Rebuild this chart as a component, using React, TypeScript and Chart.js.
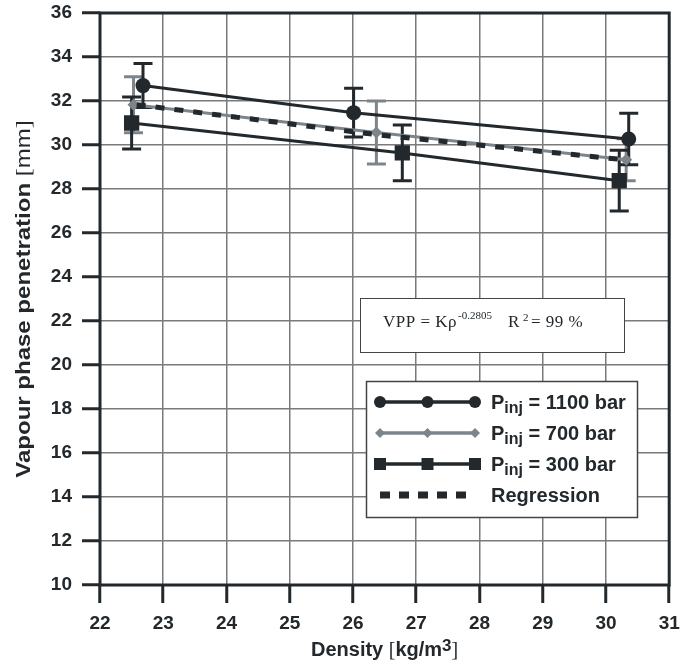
import React, { useEffect, useRef } from 'react';
import { Chart, registerables } from 'chart.js';

Chart.register(...registerables);

// ---- data ----
const xTickValues = [22, 23, 24, 25, 26, 27, 28, 29, 30, 31];
const yTickValues = [10, 12, 14, 16, 18, 20, 22, 24, 26, 28, 30, 32, 34, 36];

const density1100 = [22.68, 26.01, 30.36];
const vpp1100 = [32.7, 31.47, 30.27];
const err1100 = [1.0, 1.11, 1.17];

const density700 = [22.53, 26.37, 30.32];
const vpp700 = [31.83, 30.57, 29.33];
const err700 = [1.27, 1.43, 0.95];

const density300 = [22.5, 26.78, 30.21];
const vpp300 = [31.0, 29.64, 28.38];
const err300 = [1.18, 1.27, 1.38];

const densityReg = [22.58, 26.4, 30.29];
const vppReg = [31.83, 30.46, 29.33];

const legendPressures = ['1100', '700', '300'];
const regressionLabel = 'Regression';
const xTitle = 'Density';
const xUnit = 'kg/m';
const yTitle = 'Vapour phase penetration';
const yUnit = 'mm';

// ---- styles ----
const DARK = '#22282c';
const GRAYS = '#7d858b';
const GRID = '#7a7a7a';
const SANS = '"Liberation Sans", Arial, sans-serif';
const SERIF = '"Liberation Serif", "Times New Roman", serif';

const pts = (xs: number[], ys: number[]) => xs.map((x, i) => ({ x, y: ys[i] }));

const errorBarPlugin = {
  id: 'errorBars',
  beforeDatasetsDraw(chart: any) {
    const ctx = chart.ctx;
    const xs = chart.scales.x;
    const ys = chart.scales.y;
    const order = [1, 0, 2];
    order.forEach((di) => {
      const ds: any = chart.data.datasets[di];
      if (!ds || !ds.errors) return;
      ctx.save();
      ctx.strokeStyle = ds.borderColor;
      ctx.lineWidth = 3;
      ds.data.forEach((p: any, i: number) => {
        const px = xs.getPixelForValue(p.x);
        const top = ys.getPixelForValue(p.y + ds.errors[i]);
        const bot = ys.getPixelForValue(p.y - ds.errors[i]);
        ctx.beginPath();
        ctx.moveTo(px, top);
        ctx.lineTo(px, bot);
        ctx.moveTo(px - 9.5, top);
        ctx.lineTo(px + 9.5, top);
        ctx.moveTo(px - 9.5, bot);
        ctx.lineTo(px + 9.5, bot);
        ctx.stroke();
      });
      ctx.restore();
    });
  },
};

function drawMarker(ctx: CanvasRenderingContext2D, style: string, x: number, y: number, color: string) {
  ctx.fillStyle = color;
  ctx.beginPath();
  if (style === 'circle') {
    ctx.arc(x, y, 6, 0, Math.PI * 2);
  } else if (style === 'rect') {
    ctx.rect(x - 6, y - 6, 12, 12);
  } else {
    ctx.moveTo(x, y - 5);
    ctx.lineTo(x + 5, y);
    ctx.lineTo(x, y + 5);
    ctx.lineTo(x - 5, y);
    ctx.closePath();
  }
  ctx.fill();
}

const decorPlugin = {
  id: 'decor',
  afterDraw(chart: any) {
    const ctx: CanvasRenderingContext2D = chart.ctx;
    const a = chart.chartArea;
    ctx.save();

    // frame
    ctx.strokeStyle = DARK;
    ctx.lineWidth = 3;
    ctx.strokeRect(a.left, a.top, a.right - a.left, a.bottom - a.top);

    // annotation box
    ctx.fillStyle = '#ffffff';
    ctx.fillRect(360, 298, 264, 54);
    ctx.strokeStyle = '#444';
    ctx.lineWidth = 1;
    ctx.strokeRect(360.5, 298.5, 264, 54);
    ctx.fillStyle = DARK;
    ctx.textBaseline = 'alphabetic';
    ctx.textAlign = 'left';
    ctx.font = `17px ${SERIF}`;
    (ctx as any).letterSpacing = '0.5px';
    const t1 = 'VPP = K\u03c1';
    ctx.fillText(t1, 383, 327);
    const w1 = ctx.measureText(t1).width;
    ctx.font = `11px ${SERIF}`;
    (ctx as any).letterSpacing = '0px';
    ctx.fillText('-0.2805', 383 + w1 + 1, 319);
    ctx.font = `17px ${SERIF}`;
    ctx.fillText('R', 508, 327);
    ctx.font = `11px ${SERIF}`;
    ctx.fillText('2', 523, 321);
    ctx.font = `17px ${SERIF}`;
    (ctx as any).letterSpacing = '0.5px';
    ctx.fillText('= 99 %', 531, 327);
    (ctx as any).letterSpacing = '0px';

    // legend box
    const lx = 366, ly = 381, lw = 271, lh = 136;
    ctx.fillStyle = '#ffffff';
    ctx.fillRect(lx, ly, lw, lh);
    ctx.strokeStyle = '#444';
    ctx.lineWidth = 1.5;
    ctx.strokeRect(lx + 0.5, ly + 0.5, lw, lh);

    const rows = [402, 433, 464, 495];
    const styles = ['circle', 'rectRot', 'rect'];
    const colors = [DARK, GRAYS, DARK];
    legendPressures.forEach((p, i) => {
      const y = rows[i];
      ctx.strokeStyle = colors[i];
      ctx.lineWidth = 3.5;
      ctx.beginPath();
      ctx.moveTo(380, y);
      ctx.lineTo(475, y);
      ctx.stroke();
      [380, 427.5, 475].forEach((mx) => drawMarker(ctx, styles[i], mx, y, colors[i]));
      ctx.fillStyle = DARK;
      ctx.font = `bold 20px ${SANS}`;
      ctx.fillText('P', 491, y + 7);
      const pw = ctx.measureText('P').width;
      ctx.font = `bold 16px ${SANS}`;
      ctx.fillText('inj', 491 + pw, y + 11);
      const iw = ctx.measureText('inj').width;
      ctx.font = `bold 20px ${SANS}`;
      ctx.fillText(` = ${p} bar`, 491 + pw + iw, y + 7);
    });
    // regression entry
    ctx.strokeStyle = DARK;
    ctx.lineWidth = 7;
    ctx.setLineDash([10, 9]);
    ctx.beginPath();
    ctx.moveTo(380, rows[3]);
    ctx.lineTo(468, rows[3]);
    ctx.stroke();
    ctx.setLineDash([]);
    ctx.fillStyle = DARK;
    ctx.font = `bold 20px ${SANS}`;
    ctx.fillText(regressionLabel, 491, rows[3] + 7);

    // x title
    const cx = (a.left + a.right) / 2;
    const parts = [
      { t: xTitle + ' ', f: `bold 20px ${SANS}`, dy: 0 },
      { t: '[', f: `20px ${SERIF}`, dy: 0 },
      { t: xUnit, f: `bold 20px ${SANS}`, dy: 0 },
      { t: '3', f: `bold 17px ${SANS}`, dy: -5 },
      { t: ']', f: `20px ${SERIF}`, dy: 0 },
    ];
    let total = 0;
    parts.forEach((p) => { ctx.font = p.f; total += ctx.measureText(p.t).width; });
    let x = cx - total / 2;
    parts.forEach((p) => {
      ctx.font = p.f;
      ctx.fillText(p.t, x, 656 + p.dy);
      x += ctx.measureText(p.t).width;
    });

    // y title (slightly stretched along its length)
    const cy = (a.top + a.bottom) / 2;
    const yparts = [
      { t: yTitle + ' ', f: `bold 20px ${SANS}` },
      { t: '[', f: `20px ${SERIF}` },
      { t: yUnit, f: `20px ${SANS}` },
      { t: ']', f: `20px ${SERIF}` },
    ];
    ctx.save();
    ctx.translate(30, cy);
    ctx.rotate(-Math.PI / 2);
    ctx.scale(1.2, 1);
    let ytot = 0;
    yparts.forEach((p) => { ctx.font = p.f; ytot += ctx.measureText(p.t).width; });
    let yx = -ytot / 2;
    yparts.forEach((p) => {
      ctx.font = p.f;
      ctx.fillText(p.t, yx, 0);
      yx += ctx.measureText(p.t).width;
    });
    ctx.restore();

    ctx.restore();
  },
};

export default function App() {
  const ref = useRef<HTMLCanvasElement>(null);
  useEffect(() => {
    if (!ref.current) return;
    const chart = new Chart(ref.current, {
      type: 'scatter',
      data: {
        datasets: [
          {
            label: 'P_inj = 1100 bar',
            data: pts(density1100, vpp1100),
            showLine: true,
            borderColor: DARK,
            backgroundColor: DARK,
            borderWidth: 3,
            pointStyle: 'circle',
            pointRadius: 7.5,
            pointBorderWidth: 0,
            pointBackgroundColor: DARK,
            order: 1,
            errors: err1100,
          } as any,
          {
            label: 'P_inj = 700 bar',
            data: pts(density700, vpp700),
            showLine: true,
            borderColor: GRAYS,
            backgroundColor: GRAYS,
            borderWidth: 3,
            pointStyle: 'rectRot',
            pointRadius: 6,
            pointBorderWidth: 0,
            pointBackgroundColor: GRAYS,
            order: 3,
            errors: err700,
          } as any,
          {
            label: 'P_inj = 300 bar',
            data: pts(density300, vpp300),
            showLine: true,
            borderColor: DARK,
            backgroundColor: DARK,
            borderWidth: 3,
            pointStyle: 'rect',
            pointRadius: 10.8,
            pointBorderWidth: 0,
            pointBackgroundColor: DARK,
            order: 2,
            errors: err300,
          } as any,
          {
            label: regressionLabel,
            data: pts(densityReg, vppReg),
            showLine: true,
            borderColor: DARK,
            borderWidth: 5,
            borderDash: [9, 10],
            pointRadius: 0,
            order: 0,
          } as any,
        ],
      },
      options: {
        responsive: false,
        animation: false,
        layout: { padding: { left: 0, right: 8, top: 13, bottom: 0 } },
        plugins: { legend: { display: false }, tooltip: { enabled: false } },
        scales: {
          x: {
            type: 'linear',
            min: xTickValues[0],
            max: xTickValues[xTickValues.length - 1],
            afterBuildTicks: (s: any) => { s.ticks = xTickValues.map((v) => ({ value: v })); },
            afterFit: (s: any) => { s.height = 83; s.paddingLeft = 0; s.paddingRight = 0; },
            ticks: { color: DARK, font: { family: SANS, size: 19, weight: 'bold' }, padding: 9, maxRotation: 0, autoSkip: false },
            grid: { color: GRID, lineWidth: 1.5, tickColor: DARK, tickWidth: 3, tickLength: 18 },
            border: { display: false },
          },
          y: {
            type: 'linear',
            min: yTickValues[0],
            max: yTickValues[yTickValues.length - 1],
            afterBuildTicks: (s: any) => { s.ticks = yTickValues.map((v) => ({ value: v })); },
            afterFit: (s: any) => { s.width = 100; s.paddingTop = 0; s.paddingBottom = 0; },
            ticks: { color: DARK, font: { family: SANS, size: 19, weight: 'bold' }, padding: 10, autoSkip: false },
            grid: { color: GRID, lineWidth: 1.5, tickColor: DARK, tickWidth: 3, tickLength: 18 },
            border: { display: false },
          },
        },
      } as any,
      plugins: [errorBarPlugin, decorPlugin],
    });
    return () => chart.destroy();
  }, []);
  return (
    <div style={{ position: 'absolute', left: 0, top: 0, width: 680, height: 668, background: '#fff' }}>
      <canvas ref={ref} width={680} height={668} style={{ display: 'block' }} />
    </div>
  );
}
